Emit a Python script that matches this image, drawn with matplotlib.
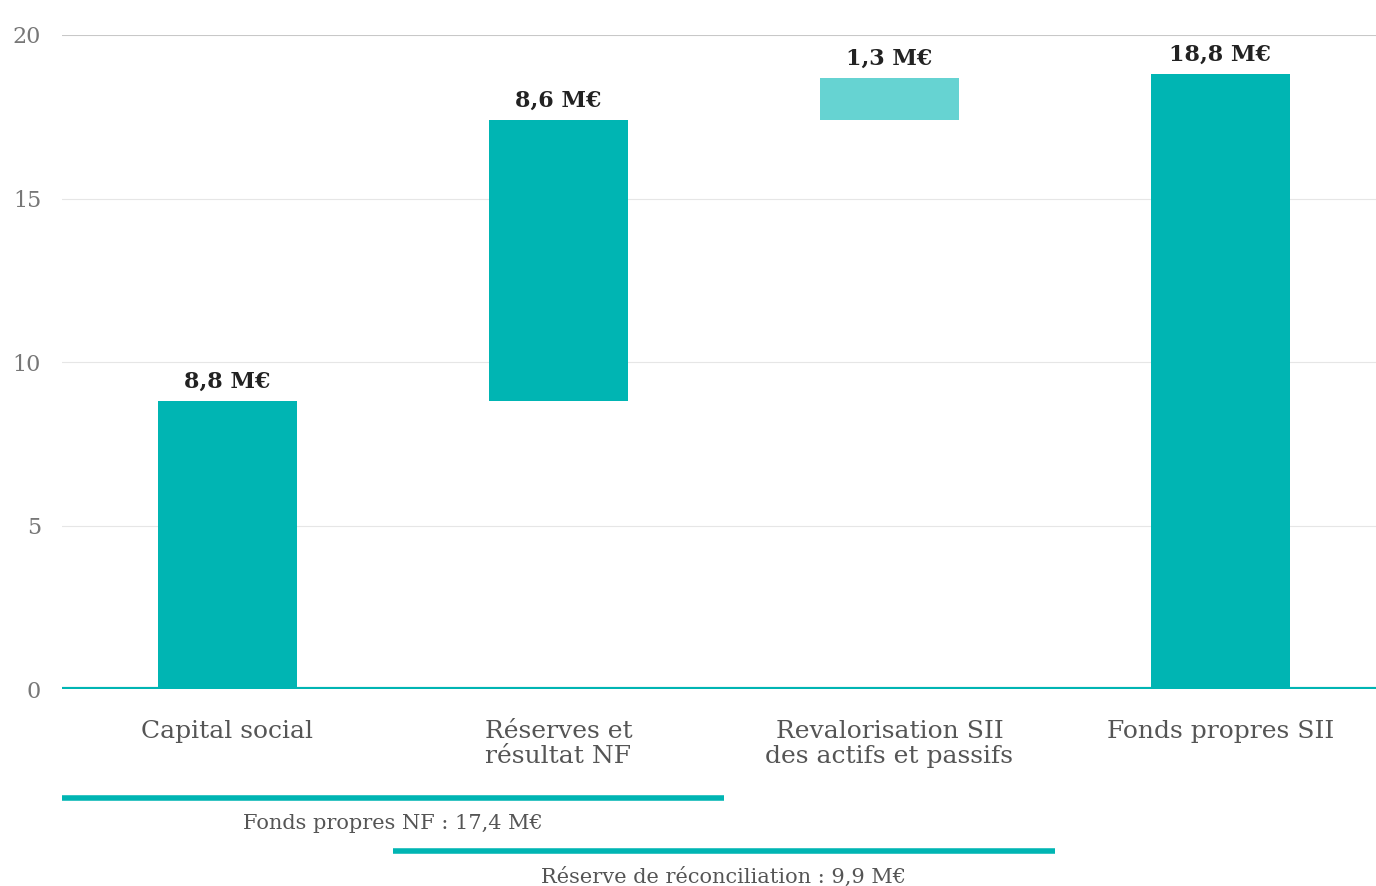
import numpy as np
import matplotlib.pyplot as plt

# waterfall: fonds propres SII (M€)
categories = ["Capital social", "Réserves et\nrésultat NF",
              "Revalorisation SII\ndes actifs et passifs", "Fonds propres SII"]
bases = [0.0, 8.8, 17.4, 0.0]
heights = [8.8, 8.6, 1.3, 18.8]
value_labels = ["8,8 M€", "8,6 M€", "1,3 M€", "18,8 M€"]
bar_colors = ["#00b5b3", "#00b5b3", "#66d3d2", "#00b5b3"]
yticks = [0, 5, 10, 15, 20]

# brackets under the axis: (start, end, text)
brackets = [
    (-0.5, 1.5, "Fonds propres NF : 17,4 M€"),
    (0.5, 2.5, "Réserve de réconciliation : 9,9 M€"),
]

plt.rcParams["font.family"] = ["DejaVu Serif"]

fig = plt.figure(figsize=(13.76, 8.86), dpi=100)
ax = fig.add_axes([0.045, 0.2223, 0.955, 0.7382])

x = np.arange(len(categories))
ax.bar(x, heights, bottom=bases, width=0.42, color=bar_colors, zorder=3)

for xi, b, h, lab in zip(x, bases, heights, value_labels):
    ax.text(xi, b + h + 0.25, lab, ha="center", va="bottom",
            fontsize=16, fontweight="bold", color="#222222", zorder=4)

ax.set_xlim(-0.5, 3.47)
ax.set_ylim(0, 20)
ax.set_yticks(yticks)
ax.set_yticklabels([str(t) for t in yticks], fontsize=16, color="#777777")
ax.tick_params(axis="y", length=0, pad=15)
ax.set_xticks(x)
ax.set_xticklabels(categories, fontsize=18, color="#555555", linespacing=1.15)
ax.tick_params(axis="x", length=0, pad=22)

for t in yticks[1:-1]:
    ax.axhline(t, color="#e6e6e6", linewidth=0.8, zorder=1)
ax.axhline(20, color="#c8c8c8", linewidth=1.5, zorder=1)
ax.axhline(0, color="#00b5b3", linewidth=3, zorder=5)
for s in ax.spines.values():
    s.set_visible(False)

# bracket lines + labels below the categories
for i, (x0, x1, txt) in enumerate(brackets):
    yl = -3.32 - i * 1.62
    ax.plot([x0, x1], [yl, yl], color="#00b5b3", linewidth=4,
            solid_capstyle="butt", clip_on=False)
    ax.text((x0 + x1) / 2, yl - 0.5, txt, ha="center", va="top",
            fontsize=15, color="#555555", clip_on=False)

fig.savefig("out.png", dpi=100)
